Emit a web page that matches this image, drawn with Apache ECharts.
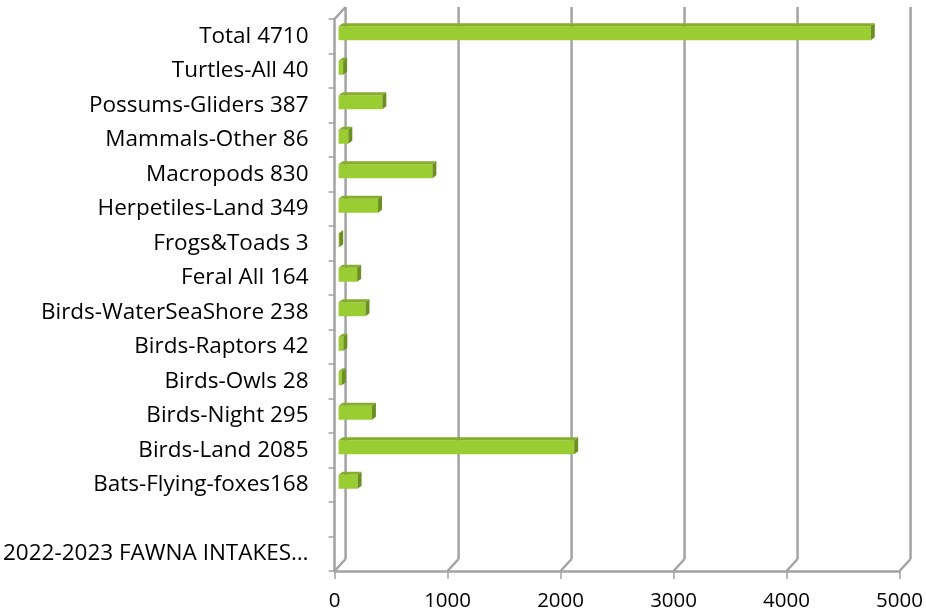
<!DOCTYPE html>
<html>
<head>
<meta charset="utf-8">
<script src="https://cdn.jsdelivr.net/npm/echarts@6/dist/echarts.min.js"></script>
<style>
  html, body { margin: 0; padding: 0; background: #fff; }
  #chart { width: 926px; height: 614px; }
</style>
</head>
<body>
<div id="chart"></div>
<script>
// categories bottom -> top (category axis draws the first one at the bottom)
const categories = [
  '2022-2023 FAWNA INTAKES…',
  '',
  'Bats-Flying-foxes168',
  'Birds-Land 2085',
  'Birds-Night 295',
  'Birds-Owls 28',
  'Birds-Raptors 42',
  'Birds-WaterSeaShore 238',
  'Feral All 164',
  'Frogs&Toads 3',
  'Herpetiles-Land 349',
  'Macropods 830',
  'Mammals-Other 86',
  'Possums-Gliders 387',
  'Turtles-All 40',
  'Total 4710'
];
const intakes = [null, null, 168, 2085, 295, 28, 42, 238, 164, 3, 349, 830, 86, 387, 40, 4710];
const xTicks = [0, 1000, 2000, 3000, 4000, 5000];

const AXIS_COLOR = '#a3a3a3';
const WALL_DX = 11, WALL_DY = -12; // depth offset of the back wall

const chart = echarts.init(document.getElementById('chart'));

// back wall: vertical gridlines + the diagonal depth strokes
function renderWall(params, api) {
  const cs = params.coordSys;
  const v = api.value(0);
  const x = api.coord([v, 0])[0];
  const top = cs.y, bottom = cs.y + cs.height;
  const style = { stroke: AXIS_COLOR, lineWidth: 2.5, fill: null };
  const children = [
    { type: 'line', shape: { x1: x + WALL_DX, y1: top + WALL_DY, x2: x + WALL_DX, y2: bottom + WALL_DY }, style },
    { type: 'line', shape: { x1: x, y1: bottom, x2: x + WALL_DX, y2: bottom + WALL_DY }, style }
  ];
  if (params.dataIndex === 0) {
    children.push({ type: 'line', shape: { x1: x, y1: top, x2: x + WALL_DX, y2: top + WALL_DY }, style });
  }
  return { type: 'group', children };
}

// 3D-looking bar: front face, top face, right side face
function renderBar(params, api) {
  const v = api.value(0);
  if (v == null || isNaN(v)) return null;
  const idx = api.value(1);
  const p0 = api.coord([0, idx]);
  const p1 = api.coord([v, idx]);
  const h = 14, dx = 4, dy = 3;
  const x = p0[0] + 4;
  const y = p0[1] - 3 - h / 2;
  const w = Math.max(p1[0] - p0[0], 0.6);
  return {
    type: 'group',
    children: [
      { type: 'rect', shape: { x, y, width: w, height: h }, style: { fill: '#9acd32' } },
      { type: 'polygon', shape: { points: [[x, y], [x + w, y], [x + w + dx, y - dy], [x + dx, y - dy]] }, style: { fill: '#86ad2c' } },
      { type: 'polygon', shape: { points: [[x + w, y], [x + w + dx, y - dy], [x + w + dx, y + h - dy], [x + w, y + h]] }, style: { fill: '#6c8f22' } }
    ]
  };
}

const option = {
  backgroundColor: '#ffffff',
  animation: false,
  grid: { left: 334, top: 19, width: 566, height: 552 },
  xAxis: {
    type: 'value',
    min: 0,
    max: 5000,
    interval: 1000,
    axisLine: { show: true, lineStyle: { color: AXIS_COLOR, width: 2.5 } },
    axisTick: { show: true, length: 8, lineStyle: { color: AXIS_COLOR, width: 1.5 } },
    axisLabel: { color: '#000', fontSize: 20.5, fontFamily: 'Open Sans', margin: 20, formatter: v => String(v) },
    splitLine: { show: false }
  },
  yAxis: {
    type: 'category',
    data: categories,
    axisLine: { show: true, lineStyle: { color: AXIS_COLOR, width: 2.5 } },
    axisTick: { show: true, length: 6, lineStyle: { color: AXIS_COLOR, width: 1.5 } },
    axisLabel: {
      color: '#000', fontSize: 22.5, fontFamily: 'Open Sans', margin: 26, interval: 0,
      padding: [9, 0, 0, 0]
    },
    splitLine: { show: false }
  },
  series: [
    {
      name: 'wall',
      type: 'custom',
      renderItem: renderWall,
      data: xTicks.map(v => [v]),
      encode: { x: 0 },
      silent: true,
      z: 1
    },
    {
      name: '2022-2023 FAWNA INTAKES',
      type: 'custom',
      renderItem: renderBar,
      data: intakes.map((v, i) => [v, i]),
      encode: { x: 0, y: 1 },
      z: 3
    }
  ]
};

chart.setOption(option);
</script>
</body>
</html>
